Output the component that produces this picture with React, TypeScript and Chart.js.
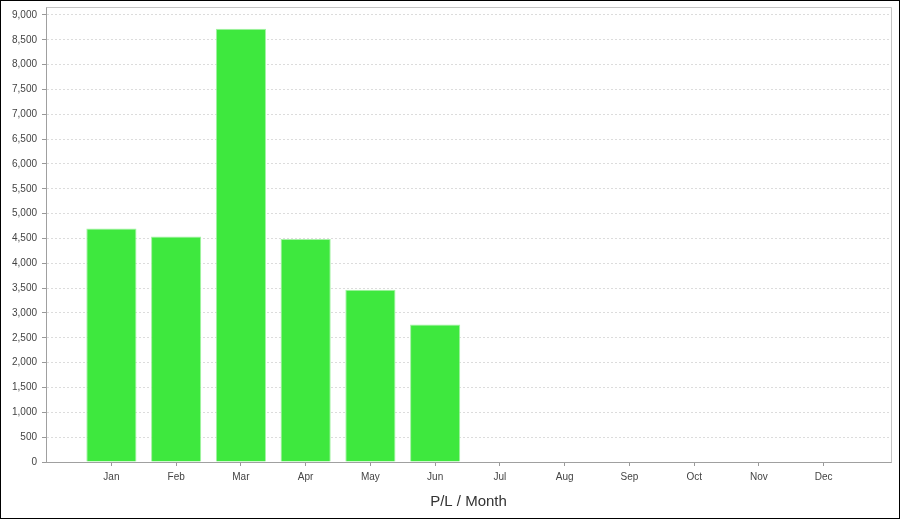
import React, { useEffect, useRef } from "react";
import { Chart, registerables } from "chart.js";

Chart.register(...registerables);

const months = ["Jan", "Feb", "Mar", "Apr", "May", "Jun", "Jul", "Aug", "Sep", "Oct", "Nov", "Dec"];
const profitValues = [4700, 4540, 8720, 4490, 3470, 2770];
const yTickStep = 500;
const yTickTop = 9000;
const yMax = 9160;
const xTitle = "P/L / Month";

const framePlugin = {
  id: "frame",
  afterDatasetsDraw(chart: any) {
    const { ctx, chartArea } = chart;
    ctx.save();
    ctx.strokeStyle = "#c4c4c4";
    ctx.lineWidth = 1;
    ctx.beginPath();
    ctx.moveTo(Math.round(chartArea.left) + 0.5, Math.round(chartArea.top) + 0.5);
    ctx.lineTo(Math.round(chartArea.right) + 0.5, Math.round(chartArea.top) + 0.5);
    ctx.lineTo(Math.round(chartArea.right) + 0.5, Math.round(chartArea.bottom) + 0.5);
    ctx.stroke();
    ctx.restore();
  },
};

export default function App() {
  const canvasRef = useRef<HTMLCanvasElement | null>(null);

  useEffect(() => {
    document.body.style.margin = "0";
    if (!canvasRef.current) return;
    Chart.defaults.font.family = "'Liberation Sans', Arial, sans-serif";
    const chart = new Chart(canvasRef.current, {
      type: "bar",
      data: {
        datasets: [
          {
            label: "P/L",
            data: profitValues.map((v, i) => ({ x: i, y: v })),
            backgroundColor: "#3ee83e",
            borderColor: "#a4f2a4",
            borderWidth: 1,
            barPercentage: 0.775,
            categoryPercentage: 1,
          },
        ],
      },
      options: {
        animation: false,
        responsive: true,
        maintainAspectRatio: false,
        layout: { padding: { left: 0, right: 8, top: 6, bottom: 7 } },
        plugins: {
          legend: { display: false },
          tooltip: { enabled: false },
        },
        scales: {
          x: {
            type: "linear",
            offset: false,
            min: -1.01,
            max: 12.04,
            afterBuildTicks: (scale: any) => {
              scale.ticks = months.map((_, i) => ({ value: i }));
            },
            afterFit: (scale: any) => {
              scale.paddingLeft = 0;
              scale.paddingRight = 0;
            },
            ticks: {
              autoSkip: false,
              maxRotation: 0,
              padding: 5,
              color: "#444",
              font: { size: 10 },
              callback: (v: any) => months[v as number] ?? "",
            },
            grid: {
              offset: false,
              drawOnChartArea: false,
              drawTicks: true,
              tickLength: 4,
              tickColor: "#999",
            },
            border: { color: "#a0a0a0" },
            title: {
              display: true,
              text: xTitle,
              color: "#333",
              font: { size: 15 },
              padding: { top: 5, bottom: 0 },
            },
          },
          y: {
            min: 0,
            max: yMax,
            afterBuildTicks: (scale: any) => {
              const t: any[] = [];
              for (let v = 0; v <= yTickTop; v += yTickStep) t.push({ value: v });
              scale.ticks = t;
            },
            afterFit: (scale: any) => {
              scale.width = 45;
              scale.paddingTop = 0;
              scale.paddingBottom = 0;
            },
            ticks: {
              autoSkip: false,
              padding: 5,
              color: "#444",
              font: { size: 10 },
              callback: (v: any) => Number(v).toLocaleString("en-US"),
            },
            grid: {
              color: "#dcdcdc",
              tickLength: 4,
              tickColor: "#999",
              tickBorderDash: [],
            },
            border: { color: "#a0a0a0", dash: [2, 2] },
          },
        },
      },
      plugins: [framePlugin],
    });
    return () => chart.destroy();
  }, []);

  return (
    <div
      style={{
        width: 900,
        height: 519,
        boxSizing: "border-box",
        border: "1px solid #000",
        background: "#fff",
      }}
    >
      <div style={{ position: "relative", width: 898, height: 517 }}>
        <canvas ref={canvasRef} />
      </div>
    </div>
  );
}
